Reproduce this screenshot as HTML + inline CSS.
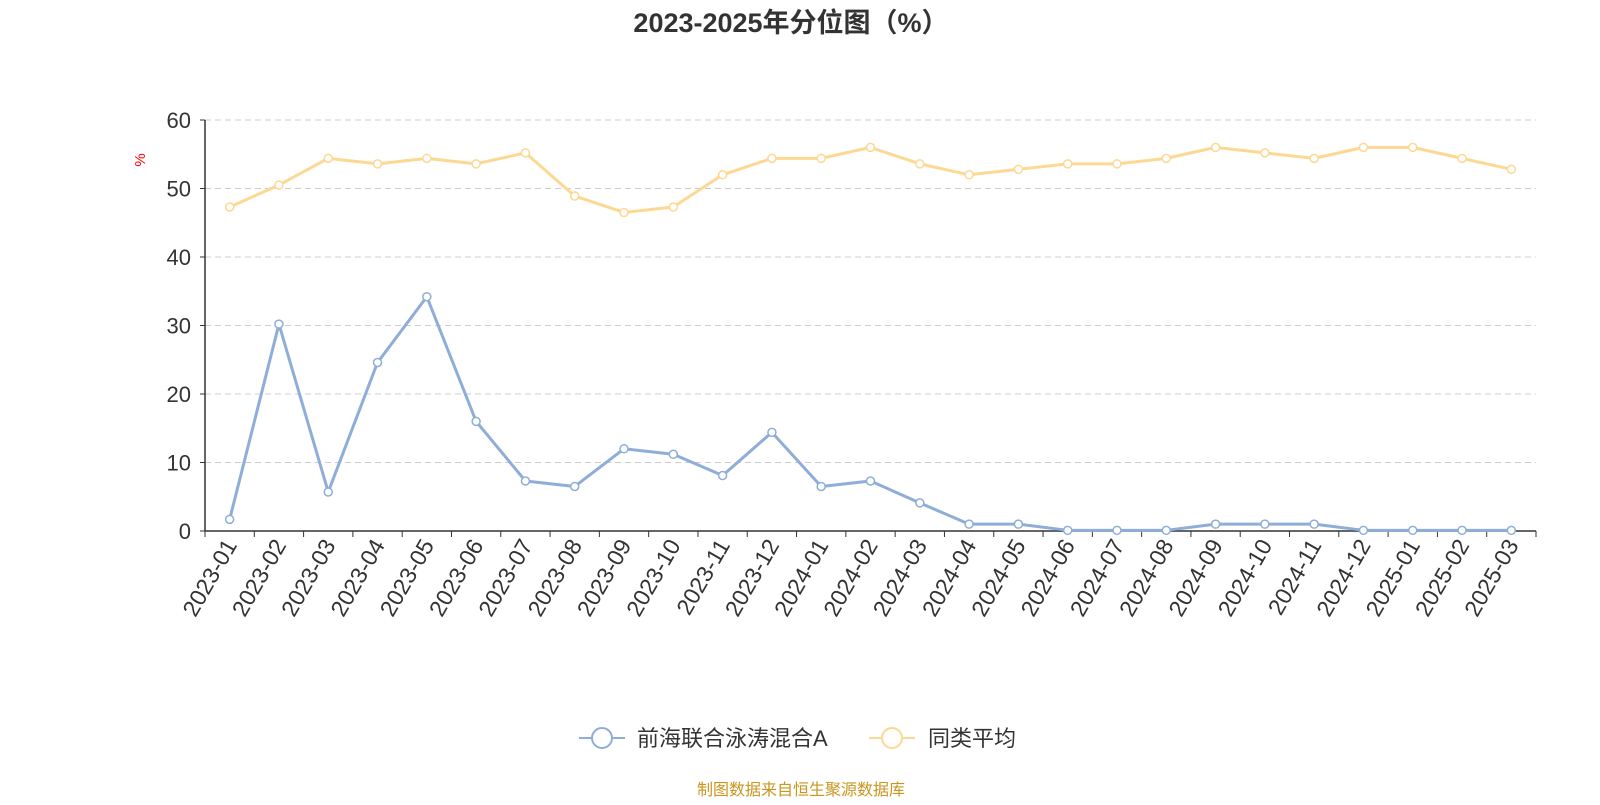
<!DOCTYPE html>
<html><head><meta charset="utf-8"><style>
body{margin:0;background:#fff;width:1600px;height:800px;overflow:hidden}
svg text{font-family:"Liberation Sans","Noto Sans CJK SC",sans-serif}
</style></head><body>
<svg id="c" width="1600" height="800" xmlns="http://www.w3.org/2000/svg">
<text x="791" y="32" text-anchor="middle" font-size="27" font-weight="bold" fill="#333">2023-2025年分位图（%）</text>
<text x="145" y="160" font-size="15" fill="red" transform="rotate(-90 145 160)" text-anchor="middle">%</text>
<g id="g"></g>
<line x1="579" y1="738" x2="625" y2="738" stroke="#8eadd9" stroke-width="2"/>
<circle cx="602" cy="738" r="10" fill="#fff" stroke="#8eadd9" stroke-width="2"/>
<text x="637" y="746" font-size="22" fill="#333">前海联合泳涛混合A</text>
<line x1="869" y1="738" x2="915" y2="738" stroke="#fdd893" stroke-width="2"/>
<circle cx="892" cy="738" r="10" fill="#fff" stroke="#fdd893" stroke-width="2"/>
<text x="928" y="746" font-size="22" fill="#333">同类平均</text>
<text x="801" y="795" text-anchor="middle" font-size="16" fill="#c8961e">制图数据来自恒生聚源数据库</text>
</svg>
<script>
var g=document.getElementById('g'),h='';
var x0=205,x1=1536,y0=531,yt=120,n=27,bw=(x1-x0)/n;
function Y(v){return y0-(y0-yt)*v/60}
for(var i=0;i<=6;i++){var y=Y(i*10);
 if(i>0)h+='<line x1="'+x0+'" x2="'+x1+'" y1="'+y+'" y2="'+y+'" stroke="#ccc" stroke-dasharray="6,4"/>';
 h+='<line x1="'+(x0-5)+'" x2="'+x0+'" y1="'+y+'" y2="'+y+'" stroke="#333"/>';
 h+='<text x="'+(x0-14)+'" y="'+(y+8)+'" text-anchor="end" font-size="22" fill="#333">'+i*10+'</text>';}
h+='<line x1="'+x0+'" x2="'+x0+'" y1="'+yt+'" y2="'+y0+'" stroke="#333" stroke-width="1.5"/>';
h+='<line x1="'+x0+'" x2="'+x1+'" y1="'+y0+'" y2="'+y0+'" stroke="#333" stroke-width="1.5"/>';
var lab=[];for(var k=0;k<n;k++){var yr=2023+Math.floor(k/12),m=k%12+1;lab.push(yr+'-'+(m<10?'0':'')+m);}
for(var k=0;k<=n;k++){var x=x0+k*bw;h+='<line x1="'+x+'" x2="'+x+'" y1="'+y0+'" y2="'+(y0+6)+'" stroke="#333"/>';}
for(var k=0;k<n;k++){var x=x0+(k+.5)*bw+8;h+='<text x="'+x+'" y="'+(y0+14)+'" text-anchor="end" font-size="23" fill="#333" transform="rotate(-60 '+x+' '+(y0+14)+')">'+lab[k]+'</text>';}
var a=[1.7,30.2,5.7,24.6,34.2,16,7.3,6.5,12,11.2,8.1,14.4,6.5,7.3,4.1,1,1,0.1,0.1,0.1,1,1,1,0.1,0.1,0.1,0.1];
var b=[47.3,50.5,54.4,53.6,54.4,53.6,55.2,48.9,46.5,47.3,52,54.4,54.4,56,53.6,52,52.8,53.6,53.6,54.4,56,55.2,54.4,56,56,54.4,52.8];
function s(d,c){var p=d.map(function(v,k){return (x0+(k+.5)*bw)+','+Y(v)}).join(' ');
 var r='<polyline points="'+p+'" fill="none" stroke="'+c+'" stroke-width="3" stroke-linejoin="round"/>';
 d.forEach(function(v,k){r+='<circle cx="'+(x0+(k+.5)*bw)+'" cy="'+Y(v)+'" r="4" fill="#fff" stroke="'+c+'" stroke-width="1.5"/>'});return r;}
h+=s(b,'#fdd893')+s(a,'#8eadd9');
g.innerHTML=h;
</script>
</body></html>
